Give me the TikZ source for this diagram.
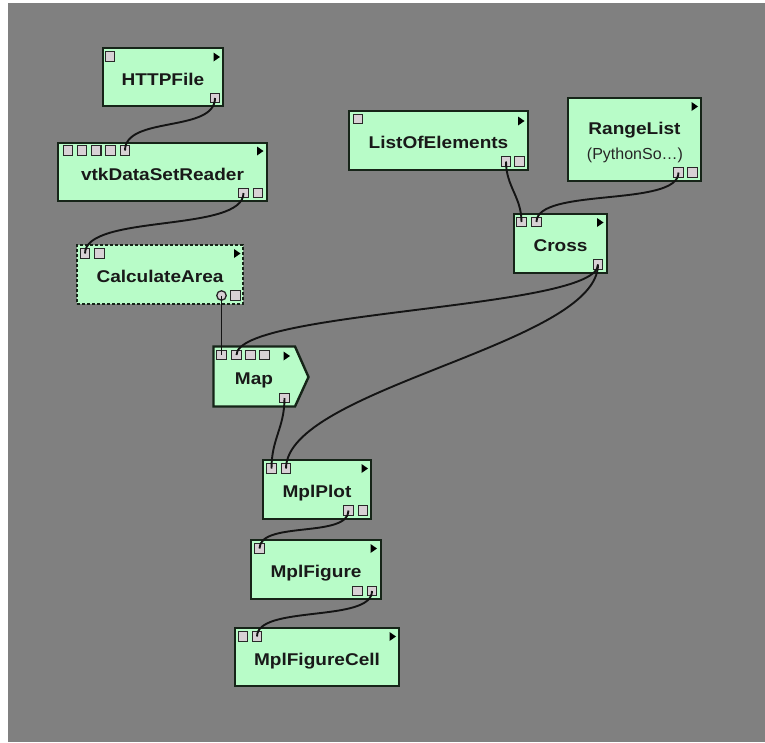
\documentclass[tikz,border=0pt]{standalone}
\usepackage{fontspec}
\setmainfont{Liberation Sans}
\newfontfamily\lbl[FakeStretch=1.12]{Liberation Sans}
\definecolor{bggray}{RGB}{128,128,128}
\definecolor{boxfill}{RGB}{184,252,200}
\definecolor{boxline}{RGB}{22,36,24}
\definecolor{portfill}{RGB}{216,209,213}
\definecolor{portline}{RGB}{40,40,40}
\definecolor{wirecol}{RGB}{20,20,20}
\begin{document}
\begin{tikzpicture}[x=1pt,y=-1pt,
  box/.style={draw=boxline, fill=boxfill, line width=2.4pt, inner sep=0pt,
    font=\lbl\bfseries\fontsize{17}{20}\selectfont, text=black!90, text height=16pt, text depth=0pt},
  dashbox/.style={box, dash pattern=on 3pt off 2pt},
  titletext/.style={font=\lbl\bfseries\fontsize{17}{20}\selectfont, text=black!90, inner sep=0pt, anchor=base},
  subtext/.style={font=\fontsize{16}{19}\selectfont, text=black!85, inner sep=0pt, anchor=base},
  port/.style={draw=portline, fill=portfill, line width=1.3pt, minimum size=9.5pt, inner sep=0pt},
  cport/.style={port, circle},
  wire/.style={draw=wirecol, line width=1.9pt},
  tri/.pic={\fill[black] (-3,-4.5) -- (3.5,0) -- (-3,4.5) -- cycle;}
]
\useasboundingbox (0,0) rectangle (765,742);
\fill[white] (0,0) rectangle (765,742);
\fill[bggray] (8,3) rectangle (765,742);

% ---------- modules ----------
\node[box, minimum width=120, minimum height=58] (http) at (163,77) {HTTPFile};
\node[box, minimum width=209, minimum height=58] (vtk) at (162.5,172) {vtkDataSetReader};
\node[dashbox, minimum width=166, minimum height=59] (calc) at (160,274.5) {CalculateArea};
\node[box, minimum width=179, minimum height=59] (loe) at (438.5,140.5) {ListOfElements};
\node[box, minimum width=133, minimum height=83] (range) at (634.5,139.5) {};
\node[titletext] (rangetitle) at (634.5,134) {RangeList};
\node[subtext] (rangesub) at (635,159) {(PythonSo…)};
\node[box, minimum width=93, minimum height=59] (cross) at (560.5,243.5) {Cross};
\coordinate (m1) at (213.5,346.5);
\coordinate (m2) at (295,346.5);
\coordinate (m3) at (308.5,377);
\coordinate (m4) at (295,406.5);
\coordinate (m5) at (213.5,406.5);
\draw[draw=boxline, fill=boxfill, line width=2.4pt, line join=miter] (m1) -- (m2) -- (m3) -- (m4) -- (m5) -- cycle;
\node[box, draw=none, fill=none] (map) at (254,376.5) {Map};
\node[box, minimum width=108, minimum height=59] (plot) at (317,489.5) {MplPlot};
\node[box, minimum width=130, minimum height=59] (fig) at (316,569.5) {MplFigure};
\node[box, minimum width=164, minimum height=58] (cell) at (317,657) {MplFigureCell};

% ---------- ports ----------
% HTTPFile
\node[port] (http-i1) at (110,56.5) {};
\node[port] (http-o1) at (215,98) {};
\pic at (216.5,57) {tri};
% vtkDataSetReader
\node[port] (vtk-i1) at (68,150.5) {};
\node[port] (vtk-i2) at (82,150.5) {};
\node[port] (vtk-i3) at (96.3,150.5) {};
\node[port] (vtk-i4) at (110.5,150.5) {};
\node[port] (vtk-i5) at (125,150.5) {};
\node[port] (vtk-o1) at (243.5,193) {};
\node[port] (vtk-o2) at (258,193) {};
\pic at (260,151) {tri};
% CalculateArea
\node[port] (calc-i1) at (85,253.5) {};
\node[port] (calc-i2) at (99.5,253.5) {};
\node[cport] (calc-o1) at (221.5,295.5) {};
\node[port] (calc-o2) at (235.5,295.5) {};
\pic at (237,253.5) {tri};
% Map
\node[port] (map-i1) at (221.5,355) {};
\node[port] (map-i2) at (236.5,355) {};
\node[port] (map-i3) at (250.5,355) {};
\node[port] (map-i4) at (264.5,355) {};
\node[port] (map-o1) at (284.5,398) {};
\pic at (286.5,356) {tri};
% ListOfElements
\node[port] (loe-i1) at (358,119) {};
\node[port] (loe-o1) at (506,161.5) {};
\node[port] (loe-o2) at (519.5,161.5) {};
\pic at (521,121) {tri};
% RangeList
\node[port] (range-o1) at (678.5,172.5) {};
\node[port] (range-o2) at (692.5,172.5) {};
\pic at (694.5,106.5) {tri};
% Cross
\node[port] (cross-i1) at (521.5,222) {};
\node[port] (cross-i2) at (536.5,222) {};
\node[port] (cross-o1) at (598,264.5) {};
\pic at (600,222.5) {tri};
% MplPlot
\node[port] (plot-i1) at (271.5,468.5) {};
\node[port] (plot-i2) at (286,468.5) {};
\node[port] (plot-o1) at (348.5,510.5) {};
\node[port] (plot-o2) at (363,510.5) {};
\pic at (364.5,468.5) {tri};
% MplFigure
\node[port] (fig-i1) at (259.5,548.5) {};
\node[port] (fig-o1) at (357.5,591) {};
\node[port] (fig-o2) at (372,591) {};
\pic at (373.5,548.5) {tri};
% MplFigureCell
\node[port] (cell-i1) at (243,636.5) {};
\node[port] (cell-i2) at (257,636.5) {};
\pic at (392.5,636.5) {tri};

% ---------- connections ----------
\draw[wire] (http-o1.center) .. controls +(0,35) and +(0,-35) .. (vtk-i5.center);
\draw[wire] (vtk-o1.center) .. controls +(0,40) and +(0,-40) .. (calc-i1.center);
\draw[wire] (calc-o1.center) -- (map-i1.center);
\draw[wire] (cross-o1.center) .. controls +(0,45) and +(0,-45) .. (map-i2.center);
\draw[wire] (cross-o1.center) .. controls +(0,80) and +(0,-80) .. (plot-i2.center);
\draw[wire] (map-o1.center) .. controls +(0,30) and +(0,-30) .. (plot-i1.center);
\draw[wire] (loe-o1.center) .. controls +(0,25) and +(0,-25) .. (cross-i1.center);
\draw[wire] (range-o1.center) .. controls +(0,35) and +(0,-35) .. (cross-i2.center);
\draw[wire] (plot-o1.center) .. controls +(0,28) and +(0,-28) .. (fig-i1.center);
\draw[wire] (fig-o2.center) .. controls +(0,32) and +(0,-32) .. (cell-i2.center);
\end{tikzpicture}
\end{document}
